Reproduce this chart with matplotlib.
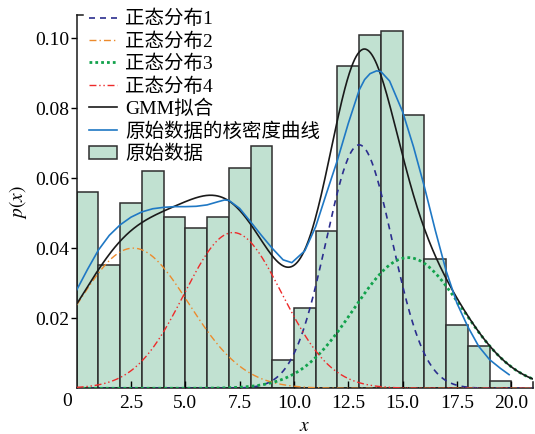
import numpy as np
import matplotlib
matplotlib.use('Agg')
import matplotlib.pyplot as plt
from matplotlib.lines import Line2D

plt.rcParams['font.family'] = ['Liberation Serif', 'Noto Sans CJK SC']
plt.rcParams['mathtext.fontset'] = 'stix'

# ---------------- data ----------------
bin_left = list(range(20))
bin_width = 1.0
hist_heights = [0.0560, 0.0352, 0.0530, 0.0621, 0.0490, 0.0459, 0.0489, 0.0630, 0.0692, 0.0081,
                0.0230, 0.0450, 0.0921, 0.1009, 0.1022, 0.0782, 0.0369, 0.0181, 0.0120, 0.0021]

# GMM components: mean, std, weight
comp_means = [13.0, 2.6, 15.25, 7.2]
comp_stds = [1.52, 2.55, 2.50, 2.25]
comp_weights = [0.265, 0.256, 0.234, 0.251]
comp_labels = ['正态分布1', '正态分布2', '正态分布3', '正态分布4']

# kernel density curve of the original data
kde_x = [0, 0.5, 1, 1.5, 2, 2.5, 3, 3.5, 4, 4.5, 5, 5.5, 6, 6.5, 6.8, 7, 7.5, 8, 8.5, 9, 9.5,
         9.9, 10.5, 11, 11.5, 12, 12.5, 13, 13.25, 13.5, 13.8, 14, 14.4, 15, 15.5, 16, 16.5,
         17, 17.5, 18, 18.5, 19, 19.5, 19.9]
kde_y = [0.0281, 0.0340, 0.0395, 0.0437, 0.0467, 0.0489, 0.0504, 0.0513, 0.0517, 0.0519, 0.0519,
         0.0520, 0.0524, 0.0533, 0.0538, 0.0537, 0.0514, 0.0476, 0.0437, 0.0400, 0.0367,
         0.0359, 0.0393, 0.0462, 0.0558, 0.0652, 0.0757, 0.0852, 0.0882, 0.0899, 0.0907,
         0.0905, 0.0878, 0.0790, 0.0690, 0.0576, 0.0452, 0.0336, 0.0243, 0.0176, 0.0120,
         0.0082, 0.0057, 0.0039]

x_ticks = [0, 2.5, 5.0, 7.5, 10.0, 12.5, 15.0, 17.5, 20.0]
y_ticks = [0.02, 0.04, 0.06, 0.08, 0.10]

# ---------------- figure ----------------
W, H = 535, 434
fig = plt.figure(figsize=(W / 100, H / 100), dpi=100)
ax_l, ax_r, ax_b, ax_t = 76.7, 533.0, 388.3, 15.0
ax = fig.add_axes([ax_l / W, 1 - ax_b / H, (ax_r - ax_l) / W, (ax_b - ax_t) / H])

bars = ax.bar(bin_left, hist_heights, width=bin_width, align='edge', color='#c1e1d1',
              edgecolor='#2e2e2e', linewidth=1.1, zorder=1)

xs = np.linspace(0, 21, 600)
comp_styles = [
    dict(color='#2b2d8e', lw=1.2, linestyle=(0, (3.6, 3.0))),
    dict(color='#ec8a2c', lw=1.0, linestyle=(0, (5, 2.2, 1, 2.2))),
    dict(color='#12a24c', lw=2.0, linestyle=(0, (1, 1.1))),
    dict(color='#ee2a2a', lw=1.0, linestyle=(0, (5, 2, 1, 2, 1, 2))),
]
handles = []
total = np.zeros_like(xs)
for m, s, w, lab, st in zip(comp_means, comp_stds, comp_weights, comp_labels, comp_styles):
    pdf = w / (s * np.sqrt(2 * np.pi)) * np.exp(-0.5 * ((xs - m) / s) ** 2)
    total += pdf
    h, = ax.plot(xs, pdf, label=lab, zorder=3, **st)
    handles.append(h)

h_gmm, = ax.plot(xs, total, color='#1a1a1a', lw=1.2, label='GMM拟合', zorder=4)
h_kde, = ax.plot(kde_x, kde_y, color='#1f78c4', lw=1.2, label='原始数据的核密度曲线', zorder=4)
handles += [h_gmm, h_kde, bars]
labels = comp_labels + ['GMM拟合', '原始数据的核密度曲线', '原始数据']

ax.set_xlim(0, 21)
ax.set_ylim(0, (ax_b - ax_t) / 3500.0)
ax.spines['top'].set_visible(False)
ax.spines['right'].set_visible(False)
for sp in ('left', 'bottom'):
    ax.spines[sp].set_linewidth(1.1)
    ax.spines[sp].set_color('#1a1a1a')

ax.set_xticks(x_ticks[1:])
ax.set_xticklabels(['%.1f' % v for v in x_ticks[1:]])
ax.set_yticks(y_ticks)
ax.set_yticklabels(['%.2f' % v for v in y_ticks])
ax.tick_params(axis='x', direction='in', length=5, width=1.0, pad=5, labelsize=14)
ax.tick_params(axis='y', direction='out', length=4.5, width=1.0, pad=1, labelsize=14)
ax.annotate('0', xy=(0, 0), xycoords='axes fraction', xytext=(-10, -5),
            textcoords='offset pixels', ha='center', va='top', fontsize=14)

# axis-end stubs
ax.add_line(Line2D([0, 6 / (ax_r - ax_l)], [1, 1], transform=ax.transAxes, color='#1a1a1a',
                   lw=1.1, clip_on=False))
ax.add_line(Line2D([1, 1], [0, 6 / (ax_b - ax_t)], transform=ax.transAxes, color='#1a1a1a',
                   lw=1.1, clip_on=False))

ax.set_xlabel('$x$', fontsize=14, labelpad=4)
ax.set_ylabel('$p(x)$', fontsize=14, labelpad=4)

leg = ax.legend(handles, labels, loc='upper left', bbox_to_anchor=(89 / W, 1 - 10 / H),
                bbox_transform=fig.transFigure, frameon=False, fontsize=14,
                handlelength=1.45, handletextpad=0.4, labelspacing=0.21, borderpad=0,
                borderaxespad=0)

fig.savefig('out.png', dpi=100)
